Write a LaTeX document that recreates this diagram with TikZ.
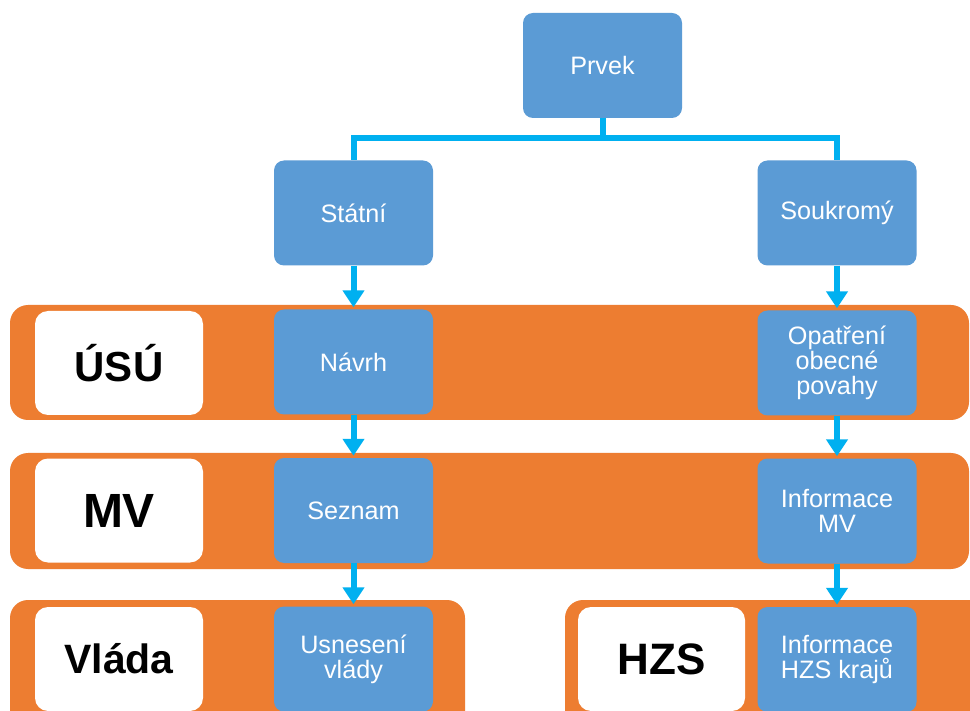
\documentclass[tikz,border=0pt]{standalone}
\usepackage{fontspec}
\setmainfont{Liberation Sans}
\usetikzlibrary{arrows.meta}
\definecolor{boxblue}{HTML}{5B9BD5}
\definecolor{bandor}{HTML}{ED7D31}
\definecolor{conncol}{HTML}{00B0F0}
\tikzset{
  bluebox/.style={fill=boxblue, rounded corners=10pt, minimum width=159pt, minimum height=105pt,
    text=white, align=center, inner sep=0pt, font=\fontsize{25.2}{25}\selectfont},
  whitebox/.style={fill=white, rounded corners=13pt, minimum width=168pt, minimum height=104pt,
    text=black, align=center, inner sep=0pt, font=\fontsize{43}{48}\selectfont\bfseries},
  band/.style={fill=bandor, rounded corners=18pt},
  conn/.style={draw=conncol, line width=6pt},
  arr/.style={conn, -{Triangle[width=21pt,length=17pt]}, shorten >=2pt},
}
\begin{document}
\begin{tikzpicture}[x=1pt,y=-1pt]
\useasboundingbox (0,0) rectangle (970,711);
\fill[white] (0,0) rectangle (970,711);
\clip (0,0) rectangle (970,711);
% bands
\fill[band] (10,305) rectangle (969,420);
\fill[band] (10,453) rectangle (969,569);
\fill[band] (10,600) rectangle (465,740);
\fill[band] (565,600) rectangle (990,740);
% top boxes
\node[bluebox] (prvek) at (602.5,65.5) {Prvek};
\node[bluebox] (statni) at (353.5,213) {Státní};
\node[bluebox] (soukromy) at (837,213) {Soukromý};
% row 1
\node[whitebox, font=\fontsize{42}{46}\selectfont\bfseries] (usu) at (119,363) {ÚSÚ};
\node[bluebox] (navrh) at (353.5,362) {Návrh};
\node[bluebox] (opatreni) at (837,363) {Opatření\\obecné\\povahy};
% row 2
\node[whitebox, font=\fontsize{48}{50}\selectfont\bfseries] (mv) at (119,510.5) {MV};
\node[bluebox] (seznam) at (353.5,510.5) {Seznam};
\node[bluebox] (infomv) at (837,511) {Informace\\MV};
% row 3
\node[whitebox, font=\fontsize{41}{46}\selectfont\bfseries] (vlada) at (119,659) {Vláda};
\node[bluebox] (usneseni) at (353.5,659) {Usnesení\\vlády};
\node[whitebox, minimum width=167pt, font=\fontsize{44}{48}\selectfont\bfseries] (hzs) at (661.5,659) {HZS};
\node[bluebox] (infohzs) at (837,659.5) {Informace\\HZS krajů};
% connectors
\coordinate (split) at (602.5,138.5);
\draw[conn] (prvek.south) -- (split) -| (statni.north);
\draw[conn] (split) -| (soukromy.north);
\draw[arr] (statni.south) -- (navrh.north);
\draw[arr] (soukromy.south) -- (opatreni.north);
\draw[arr] (navrh.south) -- (seznam.north);
\draw[arr] (opatreni.south) -- (infomv.north);
\draw[arr] (seznam.south) -- (usneseni.north);
\draw[arr] (infomv.south) -- (infohzs.north);
\end{tikzpicture}
\end{document}
